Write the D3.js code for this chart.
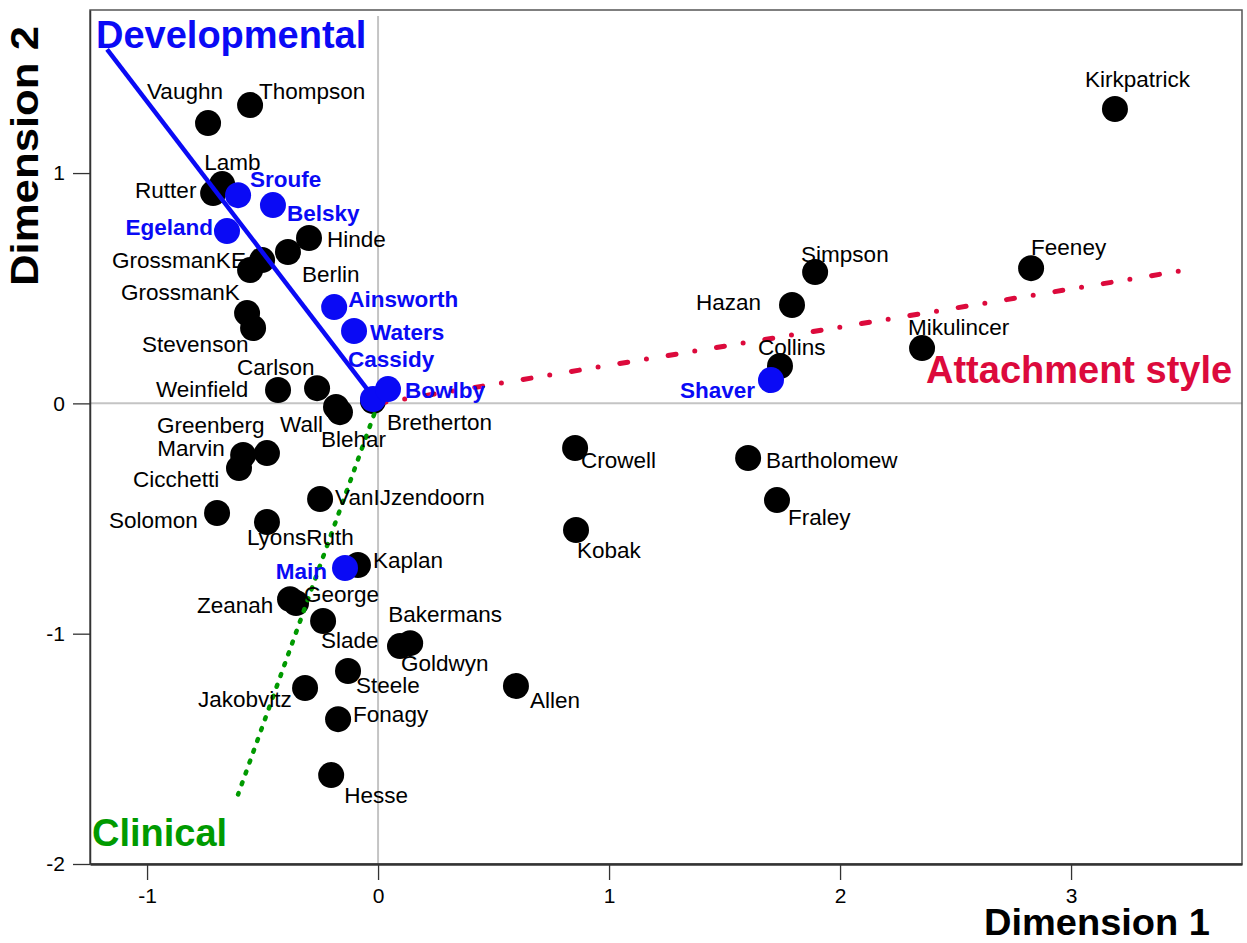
<!DOCTYPE html>
<html>
<head>
<meta charset="utf-8">
<script src="https://cdn.jsdelivr.net/npm/d3@7"></script>
<style>
  body { margin: 0; background: #fff; }
  text { font-family: Arial, "Liberation Sans", sans-serif; }
</style>
</head>
<body>
<div id="chart"></div>
<script>
// Authors (black points)
const authors = ["Kirkpatrick", "Vaughn", "Thompson", "Rutter", "Lamb", "Hinde", "Berlin",
    "GrossmanKE", "", "GrossmanK", "Stevenson", "Carlson", "Weinfield", "Wall", "Blehar",
    "Bretherton", "Greenberg", "Marvin", "Cicchetti", "VanIJzendoorn", "Solomon", "LyonsRuth",
    "Kaplan", "Zeanah", "George", "Slade", "Bakermans", "Goldwyn", "Steele", "Jakobvitz",
    "Fonagy", "Hesse", "Allen", "Crowell", "Kobak", "Bartholomew", "Fraley", "Simpson",
    "Hazan", "Collins", "Mikulincer", "Feeney"];
const dim1 = [3.190, -0.736, -0.554, -0.714, -0.675, -0.299, -0.390,
    -0.502, -0.554, -0.567, -0.541, -0.264, -0.433, -0.182, -0.165,
    -0.022, -0.481, -0.584, -0.602, -0.251, -0.697, -0.481,
    -0.087, -0.381, -0.355, -0.238, 0.139, 0.095, -0.130, -0.316,
    -0.173, -0.203, 0.597, 0.853, 0.857, 1.602, 1.727, 1.892,
    1.792, 1.740, 2.355, 2.827];
const dim2 = [1.278, 1.217, 1.295, 0.913, 0.952, 0.718, 0.657,
    0.622, 0.579, 0.392, 0.327, 0.066, 0.058, -0.016, -0.038,
    0.010, -0.216, -0.224, -0.281, -0.415, -0.476, -0.515,
    -0.702, -0.850, -0.867, -0.945, -1.041, -1.054, -1.162, -1.236,
    -1.371, -1.614, -1.227, -0.194, -0.550, -0.237, -0.420, 0.570,
    0.427, 0.162, 0.240, 0.587];

// Key authors (blue points)
const keyAuthors = ["Sroufe", "Belsky", "Egeland", "Ainsworth", "Waters", "Cassidy", "Bowlby", "Main", "Shaver"];
const keyDim1 = [-0.606, -0.455, -0.654, -0.190, -0.104, -0.022, 0.043, -0.143, 1.701];
const keyDim2 = [0.904, 0.861, 0.748, 0.418, 0.314, 0.019, 0.062, -0.715, 0.101];

// Direction vectors from the origin
const directions = ["Developmental", "Clinical", "Attachment style"];
const dirEnd1 = [-1.173, -0.606, 3.545];
const dirEnd2 = [1.537, -1.698, 0.587];

const xTicks = [-1, 0, 1, 2, 3];
const yTicks = [-2, -1, 0, 1];

// Label placement: pixel offsets from the point centre, optional anchor
const labelOffset = {
    Kirkpatrick: [-30, -22], Vaughn: [-61, -24], Thompson: [9, -6], Rutter: [-78, 5],
    Lamb: [-18, -14], Hinde: [18, 9], Berlin: [14, 30], GrossmanKE: [-150, 8],
    GrossmanK: [-126, -13], Stevenson: [-111, 24], Carlson: [-80, -13], Weinfield: [-122, 7],
    Wall: [-56, 25], Blehar: [-19, 35], Bretherton: [14, 29], Greenberg: [-110, -20],
    Marvin: [-86, 1], Cicchetti: [-106, 19], VanIJzendoorn: [15, 6], Solomon: [-108, 15],
    LyonsRuth: [-20, 23], Kaplan: [15, 3], Zeanah: [-93, 14], George: [8, -1],
    Slade: [-2, 27], Bakermans: [-22, -21], Goldwyn: [1, 25], Steele: [8, 22],
    Jakobvitz: [-107, 19], Fonagy: [15, 3], Hesse: [13, 28], Allen: [14, 22],
    Crowell: [6, 20], Kobak: [1, 28], Bartholomew: [18, 10], Fraley: [11, 25],
    Simpson: [-14, -10], Hazan: [-96, 5], Collins: [-22, -11], Mikulincer: [-14, -13],
    Feeney: [0, -13],
    Sroufe: [12, -8], Belsky: [14, 16], Egeland: [-14, 4, "end"], Ainsworth: [14, 0],
    Waters: [16, 9], Cassidy: [-25, -32], Bowlby: [17, 9], Main: [-18, 11, "end"],
    Shaver: [-16, 18, "end"]
};

const width = 1247, height = 943;
const plotLeft = 90, plotRight = 1242, plotTop = 10, plotBottom = 864;
const blue = "#0a0af5", red = "#dc0a3c", green = "#009a00";

const svg = d3.select("#chart").append("svg")
    .attr("width", width)
    .attr("height", height);

const x = d3.scaleLinear().domain([-1.247, 3.740]).range([plotLeft, plotRight]);
const y = d3.scaleLinear().domain([-2, 1.708]).range([plotBottom, plotTop]);

// reference lines through the origin
svg.append("line")
    .attr("x1", plotLeft).attr("x2", plotRight)
    .attr("y1", y(0)).attr("y2", y(0))
    .attr("stroke", "#c4c4c4").attr("stroke-width", 2);
svg.append("line")
    .attr("x1", x(0)).attr("x2", x(0))
    .attr("y1", plotTop + 6).attr("y2", plotBottom)
    .attr("stroke", "#c4c4c4").attr("stroke-width", 2);

// frame
svg.append("rect")
    .attr("x", plotLeft).attr("y", plotTop)
    .attr("width", plotRight - plotLeft).attr("height", plotBottom - plotTop)
    .attr("fill", "none").attr("stroke", "#555").attr("stroke-width", 1.5);

// axes
const fmt = d => d < 0 ? "-" + Math.abs(d) : String(d);
const xAxis = svg.append("g")
    .attr("transform", `translate(0,${plotBottom})`)
    .call(d3.axisBottom(x).tickValues(xTicks).tickSize(16).tickSizeOuter(0).tickPadding(8).tickFormat(fmt));
const yAxis = svg.append("g")
    .attr("transform", `translate(${plotLeft},0)`)
    .call(d3.axisLeft(y).tickValues(yTicks).tickSize(17).tickSizeOuter(0).tickPadding(8).tickFormat(fmt));
[xAxis, yAxis].forEach(a => {
    a.selectAll("text").attr("font-size", 21).attr("fill", "#000")
        .style("font-family", "Arial, 'Liberation Sans', sans-serif");
    a.selectAll(".tick line").attr("stroke", "#333").attr("stroke-width", 1.3);
});
xAxis.select(".domain").attr("stroke", "#333").attr("stroke-width", 2.5);
yAxis.select(".domain").attr("stroke", "#333").attr("stroke-width", 1.5);

// black points
const pts = authors.map((name, i) => ({ name, d1: dim1[i], d2: dim2[i] }));
const keyPts = keyAuthors.map((name, i) => ({ name, d1: keyDim1[i], d2: keyDim2[i] }));

svg.append("g").selectAll("circle")
    .data(pts)
    .join("circle")
    .attr("cx", d => x(d.d1))
    .attr("cy", d => y(d.d2))
    .attr("r", 13)
    .attr("fill", "#000");

// direction lines
const dirs = directions.map((name, i) => ({ name, d1: dirEnd1[i], d2: dirEnd2[i] }));
const dirStyle = {
    "Developmental": { color: blue, w: 4.5, dash: null, cap: "butt" },
    "Clinical": { color: green, w: 4.5, dash: "2,9.5", cap: "round" },
    "Attachment style": { color: red, w: 5, dash: "8,19,0,22", cap: "round" }
};
svg.append("g").selectAll("line")
    .data(dirs)
    .join("line")
    .attr("x1", x(0)).attr("y1", y(0))
    .attr("x2", d => x(d.d1)).attr("y2", d => y(d.d2))
    .attr("stroke", d => dirStyle[d.name].color)
    .attr("stroke-width", d => dirStyle[d.name].w)
    .attr("stroke-dasharray", d => dirStyle[d.name].dash)
    .attr("stroke-linecap", d => dirStyle[d.name].cap);

// blue points
svg.append("g").selectAll("circle")
    .data(keyPts)
    .join("circle")
    .attr("cx", d => x(d.d1))
    .attr("cy", d => y(d.d2))
    .attr("r", 13)
    .attr("fill", blue);

// labels
function placeLabels(sel) {
    sel.attr("x", d => x(d.d1) + labelOffset[d.name][0])
        .attr("y", d => y(d.d2) + labelOffset[d.name][1])
        .attr("text-anchor", d => labelOffset[d.name][2] || "start")
        .text(d => d.name);
}
svg.append("g").selectAll("text")
    .data(pts.filter(d => d.name !== ""))
    .join("text")
    .attr("font-size", 22.5)
    .attr("fill", "#000")
    .call(placeLabels);

svg.append("g").selectAll("text")
    .data(keyPts)
    .join("text")
    .attr("font-size", 22.5)
    .attr("font-weight", "bold")
    .attr("fill", blue)
    .call(placeLabels);

// direction names
const dirLabelPos = {
    "Developmental": [96, 48],
    "Clinical": [92, 846],
    "Attachment style": [926, 383]
};
svg.append("g").selectAll("text")
    .data(dirs)
    .join("text")
    .attr("x", d => dirLabelPos[d.name][0])
    .attr("y", d => dirLabelPos[d.name][1])
    .attr("font-size", 38)
    .attr("font-weight", "bold")
    .attr("fill", d => dirStyle[d.name].color)
    .text(d => d.name);

// axis titles
svg.append("text")
    .attr("x", 984).attr("y", 935)
    .attr("font-size", 37)
    .attr("font-weight", "bold")
    .attr("textLength", 226)
    .attr("lengthAdjust", "spacingAndGlyphs")
    .text("Dimension 1");
svg.append("text")
    .attr("transform", "translate(38,286) rotate(-90)")
    .attr("font-size", 38)
    .attr("font-weight", "bold")
    .attr("textLength", 260)
    .attr("lengthAdjust", "spacingAndGlyphs")
    .text("Dimension 2");
</script>
</body>
</html>
